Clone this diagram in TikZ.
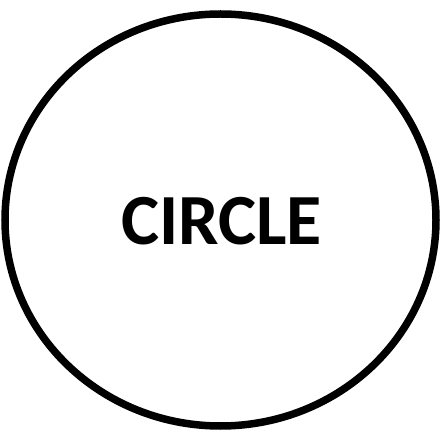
\documentclass[tikz,border=0pt]{standalone}
\usepackage{fontspec}
\setmainfont{Carlito}
\tikzset{label/.style={font=\bfseries\fontsize{72}{72}\selectfont,inner sep=0pt}}
\begin{document}
\begin{tikzpicture}[x=1pt,y=-1pt]
\useasboundingbox (0,0) rectangle (442,430);
\draw[line width=7.5pt] (220.5,220) ellipse [x radius=215.5, y radius=206];
\node[label,anchor=base] (t) at (221.5,245) {CIRCLE};
\end{tikzpicture}
\end{document}
